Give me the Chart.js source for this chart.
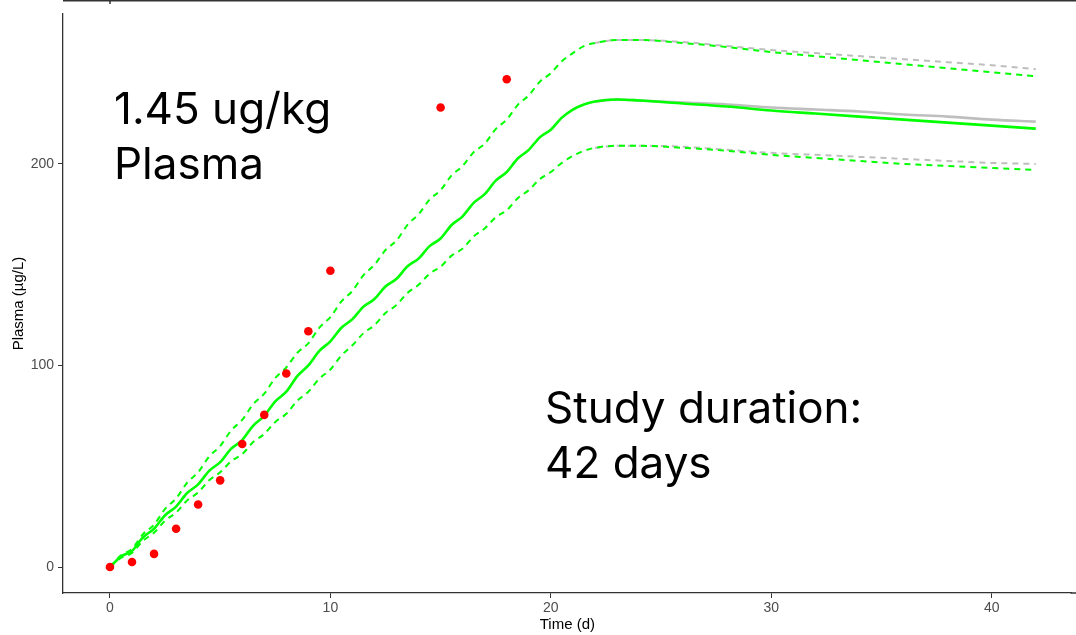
<!DOCTYPE html>
<html>
<head>
<meta charset="utf-8">
<script src="https://cdn.jsdelivr.net/npm/chart.js@4.4.0/dist/chart.umd.min.js"></script>
<style>
  html, body { margin: 0; padding: 0; background: #fff; }
  #wrap { width: 1076px; height: 635px; }
</style>
</head>
<body>
<div id="wrap"><canvas id="plasmaChart" width="1076" height="635"></canvas></div>
<script>
// simulated time grid (days)
const simTimes = [0, 0.5, 1, 1.5, 2, 2.5, 3, 3.5, 4, 4.5, 5, 5.5, 6, 6.5, 7, 7.5, 8, 8.5, 9, 9.5,
  10, 10.5, 11, 11.5, 12, 12.5, 13, 13.5, 14, 14.5, 15, 15.5, 16, 16.5, 17, 17.5, 18, 18.5, 19, 19.5,
  20, 20.5, 21, 21.5, 22, 23, 24, 26, 28, 30, 32, 34, 36, 38, 40, 42];

// green model: median and bounds
const greenMedian = [0, 5.2, 8, 14.7, 19, 25.7, 30, 36.7, 41, 47.7, 52, 58.7, 63, 70.2, 75, 82.2, 87, 94.7, 100, 107.2,
  112, 118.7, 123, 129.2, 133, 139.2, 143, 149.2, 153, 159.2, 163, 169.7, 174, 180.7, 185, 191.7, 196, 202.7, 207, 213.2,
  217, 223, 227, 229.5, 231, 232, 231.5, 230, 228.5, 226.5, 225, 223.5, 222, 220.5, 219, 217.5];
const greenUpper = [0, 5.8, 9, 16.3, 21, 28.8, 34, 41.8, 47, 54.8, 60, 67.8, 73, 80.8, 86, 93.8, 99, 106.3, 111, 118.8,
  124, 131.8, 137, 144.8, 150, 157.3, 162, 169.8, 175, 182.3, 187, 194.3, 199, 205.8, 210, 217.3, 222, 229.3, 234, 240.8,
  245, 251, 255, 258.5, 260, 261.5, 261.5, 260, 258, 255.5, 253.5, 251.5, 249.5, 247.5, 245.5, 243.5];
const greenLower = [0, 4.5, 7, 13, 17, 23, 27, 33, 37, 43, 47, 52.5, 56, 62, 66, 72, 76, 82.5, 87, 93.5,
  98, 105, 110, 116, 120, 126, 130, 136, 140, 145.5, 149, 154.5, 158, 164, 168, 173.5, 177, 183, 187, 192.5,
  196, 200.5, 204, 206.5, 208, 209, 209, 208, 206.5, 204.5, 203, 201.5, 200, 199, 198, 197];

// grey model (differs only after the dosing phase)
const greyTimes = [22, 23, 24, 26, 28, 30, 32, 34, 36, 38, 40, 42];
const greyMedian = [231, 232, 231.5, 230.5, 229.5, 228, 227, 226, 224.5, 223.5, 222, 221];
const greyUpper = [260, 261.5, 261.5, 260.5, 258.5, 256.5, 255, 253.5, 252, 250.5, 249, 247];
const greyLower = [208, 209, 209, 208.5, 207, 205.5, 204.5, 203.5, 202.5, 201.5, 200.5, 200];

// observed plasma
const obsDays = [0, 1, 2, 3, 4, 5, 6, 7, 8, 9, 10, 15, 18];
const obsPlasma = [0, 2.5, 6.5, 19, 31, 43, 61, 75.5, 96, 117, 147, 228, 242];

const xTicks = [0, 10, 20, 30, 40];
const yTicks = [0, 100, 200];

const toPoints = (xs, ys) => xs.map((x, i) => ({ x: x, y: ys[i] }));

const GREEN = '#00ff00';
const GREY = '#bebebe';

const lineSet = (label, xs, ys, color, dashed, order) => ({
  type: 'line',
  label: label,
  data: toPoints(xs, ys),
  borderColor: color,
  borderWidth: dashed ? 2 : 2.6,
  borderDash: dashed ? [6, 5] : [],
  pointRadius: 0,
  fill: false,
  cubicInterpolationMode: 'monotone',
  order: order
});

const frameAndText = {
  id: 'frameAndText',
  beforeDraw(chart) {
    const ctx = chart.ctx;
    ctx.save();
    ctx.fillStyle = '#fff';
    ctx.fillRect(0, 0, chart.width, chart.height);
    ctx.restore();
  },
  afterDraw(chart) {
    const ctx = chart.ctx;
    const area = chart.chartArea;
    ctx.save();
    ctx.strokeStyle = '#333';
    ctx.lineWidth = 1.5;
    ctx.beginPath();
    // edge of the panel above
    ctx.moveTo(63, 0.75);
    ctx.lineTo(chart.width, 0.75);
    ctx.moveTo(110, 0);
    ctx.lineTo(110, 4);
    // x axis runs on to the window edge
    ctx.moveTo(area.right - 1, area.bottom);
    ctx.lineTo(chart.width, area.bottom);
    ctx.stroke();

    ctx.fillStyle = '#000';
    ctx.font = '44px Inter';
    ctx.textBaseline = 'alphabetic';
    ctx.textAlign = 'left';
    ctx.fillText('1.45 ug/kg', 114, 124);
    ctx.fillText('Plasma', 114, 179);
    ctx.fillText('Study duration:', 545, 423);
    ctx.fillText('42 days', 545, 478);
    ctx.restore();
  }
};

new Chart(document.getElementById('plasmaChart'), {
  type: 'scatter',
  data: {
    datasets: [
      {
        type: 'scatter',
        label: 'Observed',
        data: toPoints(obsDays, obsPlasma),
        backgroundColor: '#ff0000',
        borderColor: '#ff0000',
        pointRadius: 4.3,
        borderWidth: 0,
        order: 0
      },
      lineSet('Median', simTimes, greenMedian, GREEN, false, 1),
      lineSet('Upper', simTimes, greenUpper, GREEN, true, 2),
      lineSet('Lower', simTimes, greenLower, GREEN, true, 3),
      lineSet('Median (ref)', greyTimes, greyMedian, GREY, false, 4),
      lineSet('Upper (ref)', greyTimes, greyUpper, GREY, true, 5),
      lineSet('Lower (ref)', greyTimes, greyLower, GREY, true, 6)
    ]
  },
  options: {
    responsive: false,
    animation: false,
    devicePixelRatio: 1,
    layout: { padding: { top: 14, right: 0, left: 0, bottom: 0 } },
    plugins: {
      legend: { display: false },
      tooltip: { enabled: false }
    },
    scales: {
      x: {
        type: 'linear',
        min: -2.13,
        max: 43.63,
        afterFit: (scale) => { scale.height = 42; },
        afterBuildTicks: (scale) => { scale.ticks = xTicks.map(v => ({ value: v })); },
        grid: { drawOnChartArea: false, drawTicks: true, tickLength: 5, color: '#333', tickWidth: 1 },
        border: { display: true, color: '#333', width: 1.3 },
        ticks: {
          color: '#4d4d4d',
          padding: 2,
          font: { family: 'Liberation Sans', size: 14 },
          maxRotation: 0
        },
        title: {
          display: true,
          text: 'Time (d)',
          color: '#000',
          font: { family: 'Liberation Sans', size: 15 },
          padding: { top: 0, bottom: 1 }
        }
      },
      y: {
        type: 'linear',
        min: -12.9,
        max: 274.4,
        afterFit: (scale) => { scale.width = 63; },
        afterBuildTicks: (scale) => { scale.ticks = yTicks.map(v => ({ value: v })); },
        grid: { drawOnChartArea: false, drawTicks: true, tickLength: 5, color: '#333', tickWidth: 1 },
        border: { display: true, color: '#333', width: 1.3 },
        ticks: {
          color: '#4d4d4d',
          padding: 4,
          font: { family: 'Liberation Sans', size: 14 }
        },
        title: {
          display: true,
          text: 'Plasma (µg/L)',
          color: '#000',
          font: { family: 'Liberation Sans', size: 15 },
          padding: { top: 10, bottom: 0 }
        }
      }
    }
  },
  plugins: [frameAndText]
});
</script>
</body>
</html>
